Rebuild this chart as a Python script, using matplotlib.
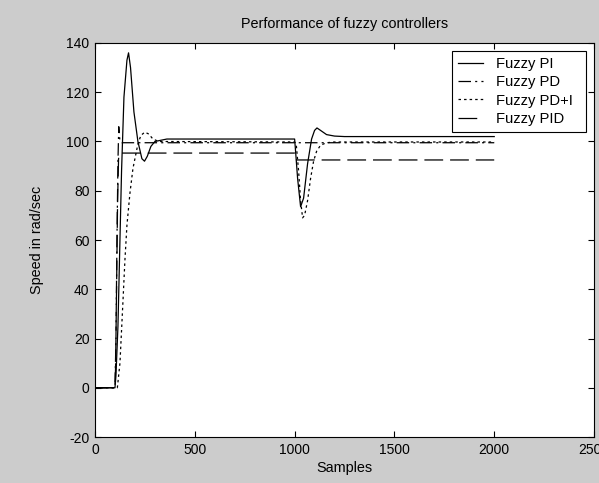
import numpy as np
import matplotlib
matplotlib.use("Agg")
import matplotlib.pyplot as plt

plt.rcParams['font.family'] = ['Liberation Sans', 'DejaVu Sans']
plt.rcParams['lines.scale_dashes'] = False
plt.rcParams['axes.unicode_minus'] = False

# samples / speed (rad/sec)
pi_t = [0, 100, 105, 115, 125, 133, 145, 160, 168, 178, 195, 215, 235, 248, 262,
        280, 300, 330, 360, 1000, 1003, 1015, 1030, 1045, 1065, 1085, 1100, 1112,
        1130, 1160, 1200, 1250, 2000]
pi_v = [0, 0, 5, 25, 60, 88, 118, 133, 136, 130, 112, 100, 93, 92, 94,
        98, 100, 100.5, 101, 101, 98, 85, 73.5, 77, 91, 101, 104.5, 105.5,
        104.5, 102.8, 102.2, 102, 102]

pd_t = [0, 100, 105, 110, 115, 119, 125, 135, 2000]
pd_v = [0, 0, 20, 60, 92, 106, 100, 99.5, 99.5]

pdi_t = [0, 112, 125, 140, 150, 160, 175, 190, 200, 215, 230, 250, 270, 290, 320,
         1000, 1008, 1020, 1030, 1040, 1050, 1065, 1080, 1095, 1110, 1130, 1160, 1200, 2000]
pdi_v = [0, 0, 10, 35, 52, 66, 79, 89, 93, 99, 102.5, 103.8, 103, 101, 100,
         99.8, 99, 88, 76, 69, 70, 76, 85, 92, 96, 98.5, 99.5, 99.8, 99.8]

pid_t = [0, 100, 103, 108, 113, 118, 125, 1000, 1005, 2000]
pid_v = [0, 0, 8, 40, 75, 93, 95.3, 95.3, 92.5, 92.5]

labels = ['Fuzzy PI', 'Fuzzy PD', 'Fuzzy PD+I', 'Fuzzy PID']

fig = plt.figure(figsize=(5.99, 4.83), dpi=100, facecolor='#cccccc')
ax = fig.add_axes([0.1586, 0.0952, 0.8331, 0.8158])
ax.set_facecolor('white')

lw = 0.9
ax.plot(pi_t, pi_v, color='black', lw=lw, linestyle='-', label=labels[0])
ax.plot(pd_t, pd_v, color='black', lw=lw, linestyle=(0, (9, 3, 1.5, 3)), label=labels[1])
ax.plot(pdi_t, pdi_v, color='black', lw=lw, linestyle=(0, (1.8, 2.2)), label=labels[2])
ax.plot(pid_t, pid_v, color='black', lw=lw, linestyle=(0, (13.5, 5)), label=labels[3])

ax.set_xlim(0, 2500)
ax.set_ylim(-20, 140)
ax.set_xticks(np.arange(0, 2501, 500))
ax.set_yticks(np.arange(-20, 141, 20))
ax.tick_params(direction='in', length=4, width=0.8, top=True, right=True,
               labelsize=10, pad=4)
for s in ax.spines.values():
    s.set_linewidth(0.8)

ax.set_title('Performance of fuzzy controllers', fontsize=10.4, pad=11)
ax.set_xlabel('Samples', fontsize=10.4, labelpad=3)
ax.set_ylabel('Speed in rad/sec', fontsize=10.4, labelpad=16)

# legend box stretched to the width seen in the reference
leg = ax.legend(loc='upper left', bbox_to_anchor=(0.7154, 0, 0.2686, 0.98),
                mode='expand', fontsize=10.6,
                fancybox=False, framealpha=1, edgecolor='black',
                handlelength=1.7, handletextpad=0.9, labelspacing=0.3,
                borderpad=0.4, borderaxespad=0)
leg.get_frame().set_linewidth(0.8)

fig.savefig('out.png', dpi=100, facecolor=fig.get_facecolor())
